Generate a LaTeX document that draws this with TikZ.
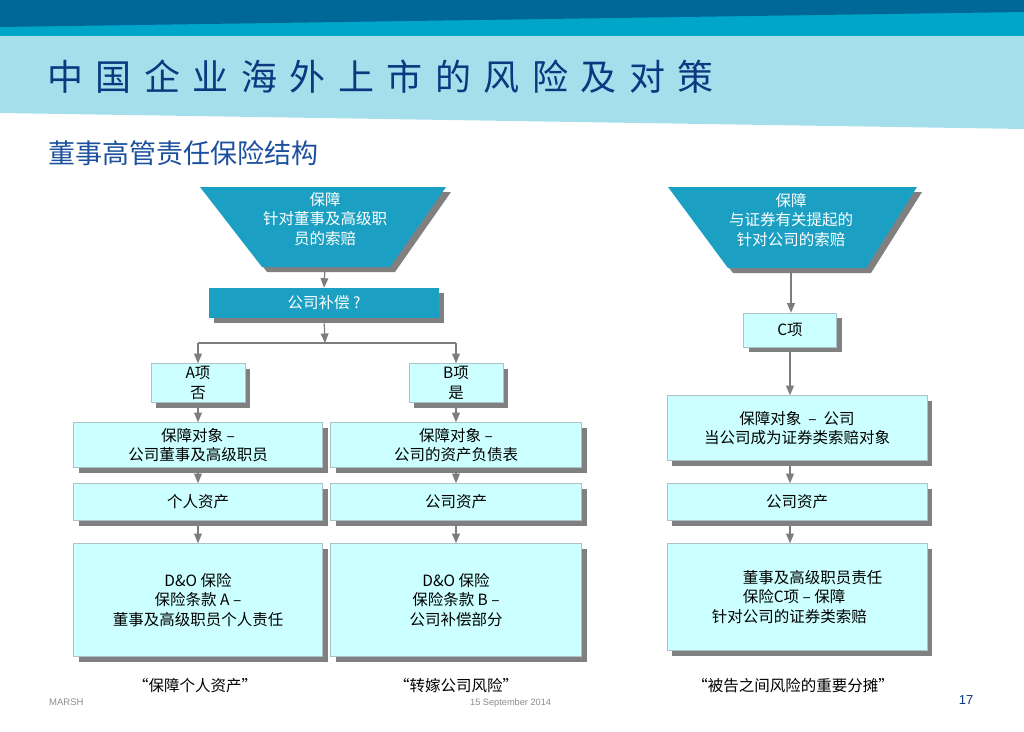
\documentclass[tikz,border=0pt]{standalone}
\usepackage{fontspec}
\setmainfont{Noto Sans CJK SC}
\newfontfamily\footfont{Liberation Sans}
\definecolor{darkband}{RGB}{0,104,153}
\definecolor{midband}{RGB}{0,166,200}
\definecolor{lightband}{RGB}{166,223,236}
\definecolor{navy}{RGB}{12,56,128}
\definecolor{subblue}{RGB}{28,80,158}
\definecolor{tealfill}{RGB}{27,160,195}
\definecolor{boxfill}{RGB}{204,255,255}
\definecolor{boxline}{RGB}{170,195,200}
\definecolor{shadowgray}{RGB}{128,128,128}
\definecolor{linkgray}{RGB}{125,125,125}
\usetikzlibrary{arrows}
\usetikzlibrary{calc}
\usetikzlibrary{positioning}
\usetikzlibrary{shadows}
\tikzset{
  boxshadow/.style={drop shadow={shadow xshift=5pt, shadow yshift=-5pt, fill=shadowgray, opacity=1}},
  box/.style={
    draw=boxline, fill=boxfill, line width=0.6pt,
    inner sep=0, align=center, boxshadow,
    font=\fontsize{15.5}{19.5}\selectfont
  },
  tealbox/.style={box, draw=none, fill=tealfill, text=white},
  funneltext/.style={align=center, text=white, inner sep=0, font=\fontsize{15.5}{19.5}\selectfont},
  quote/.style={inner sep=0, font=\fontsize{15.5}{18}\selectfont},
  arrow/.style={->,>=triangle 45, draw=linkgray, line width=1.2pt, shorten <=5pt},
  link/.style={draw=linkgray, line width=1.2pt}
}

\begin{document}
\begin{tikzpicture}[x=1pt, y=-1pt]
\useasboundingbox (0,0) rectangle (1024,731);

% header
\fill[lightband] (0,36) -- (1024,36) -- (1024,129) -- (0,113) -- cycle;
\fill[midband] (0,0) rectangle (1024,36);
\fill[darkband] (0,0) -- (1024,0) -- (1024,12) -- (0,27) -- cycle;
\node[anchor=west, inner sep=0, text=navy, font=\fontsize{36}{36}\selectfont] (title) at (47,77)
  {{\spaceskip=12.5pt 中 国 企 业 海 外 上 市 的 风 险 及 对 策}};
\node[anchor=west, inner sep=0, text=subblue, font=\fontsize{27}{27}\selectfont] (subtitle) at (48,153)
  {董事高管责任保险结构};

% left part: A and B
\fill[tealfill, boxshadow] (200,187) -- (446,187) -- (390,267) -- (262,267) -- cycle;
\node[funneltext] (claimDO) at (325,219) {保障\\针对董事及高级职\\员的索赔};
\coordinate (claimDOtip) at (325,267);

\node[tealbox, minimum width=230pt, minimum height=30pt] (comp) at (324,303) {公司补偿 ?};
\coordinate (split) at (325,343);

\node[box, minimum width=94pt, minimum height=39pt] (itemA) at (198,383) {A项\\否};
\node[box, minimum width=94pt, minimum height=39pt] (itemB) at (456,383) {B项\\是};

\node[box, minimum width=249pt, minimum height=45pt] (coverA) at (198,445) {保障对象 –\\公司董事及高级职员};
\node[box, minimum width=251pt, minimum height=45pt] (coverB) at (456,445) {保障对象 –\\公司的资产负债表};

\node[box, minimum width=249pt, minimum height=37pt] (assetA) at (198,502) {个人资产};
\node[box, minimum width=251pt, minimum height=37pt] (assetB) at (456,502) {公司资产};

\node[box, minimum width=249pt, minimum height=113pt] (policyA) at (198,600) {D\&O 保险\\保险条款 A –\\董事及高级职员个人责任};
\node[box, minimum width=251pt, minimum height=113pt] (policyB) at (456,600) {D\&O 保险\\保险条款 B –\\公司补偿部分};

\node[quote] (quoteA) at (195,686) {“保障个人资产”};
\node[quote] (quoteB) at (456,686) {“转嫁公司风险”};

% right part: C
\fill[tealfill, boxshadow] (668,187) -- (917,187) -- (866,268) -- (728,268) -- cycle;
\node[funneltext] (claimCo) at (791,220) {保障\\与证券有关提起的\\针对公司的索赔};
\coordinate (claimCotip) at (791,268);

\node[box, minimum width=93pt, minimum height=34pt] (itemC) at (790,330) {C项};
\node[box, minimum width=260pt, minimum height=65pt] (coverC) at (797,428) {保障对象 \ – \ 公司\\当公司成为证券类索赔对象};
\node[box, minimum width=260pt, minimum height=37pt] (assetC) at (797,502) {公司资产};
\node[box, minimum width=260pt, minimum height=107pt, align=left] (policyC) at (797,597)
  {\hspace*{2em}董事及高级职员责任\\\hspace*{2em}保险C项 – 保障\\针对公司的证券类索赔};

\node[quote] (quoteC) at (793,686) {“被告之间风险的重要分摊”};

% connectors
\draw [arrow] (claimDOtip) -- (comp.north);
\draw [arrow] (comp.south) -- (split);
\draw [link] (split -| itemA.north) -- (split -| itemB.north);
\draw [arrow, shorten <=0pt] (split -| itemA.north) -- (itemA.north);
\draw [arrow, shorten <=0pt] (split -| itemB.north) -- (itemB.north);
\draw [arrow] (itemA.south) -- (coverA.north);
\draw [arrow] (itemB.south) -- (coverB.north);
\draw [arrow] (coverA.south) -- (assetA.north);
\draw [arrow] (coverB.south) -- (assetB.north);
\draw [arrow] (assetA.south) -- (policyA.north);
\draw [arrow] (assetB.south) -- (policyB.north);

\draw [arrow] (claimCotip) -- (claimCotip |- itemC.north);
\draw [arrow] (itemC.south) -- (itemC.south |- coverC.north);
\draw [arrow] (coverC.south -| itemC) -- (itemC |- assetC.north);
\draw [arrow] (assetC.south -| itemC) -- (itemC |- policyC.north);

% footer
\node[anchor=west, inner sep=0, text=black!45, font=\footfont\fontsize{9.5}{11}\selectfont] (marsh) at (49,702) {MARSH};
\node[anchor=west, inner sep=0, text=black!45, font=\footfont\fontsize{9.2}{11}\selectfont] (date) at (470,703) {15 September 2014};
\node[inner sep=0, text=navy, font=\footfont\fontsize{13}{14}\selectfont] (pageno) at (966,700) {17};
\end{tikzpicture}
\end{document}
